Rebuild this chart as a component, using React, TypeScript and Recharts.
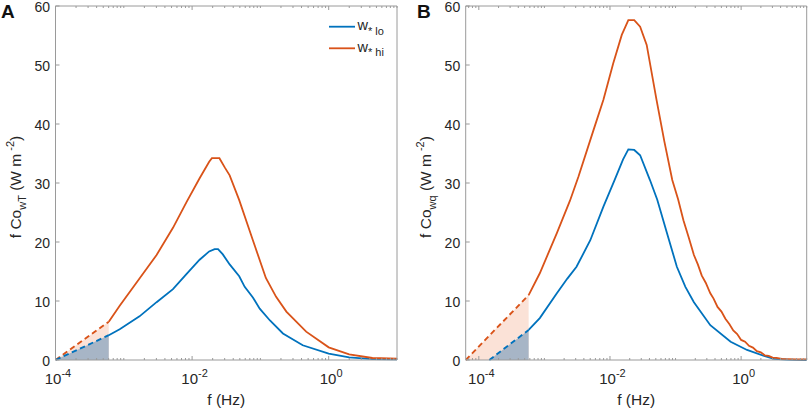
import { ComposedChart, Line, Area, XAxis, YAxis, Label } from 'recharts';

const BLUE = '#0072BD';
const ORANGE = '#D95319';
const PEACH = '#FBE2D7';
const SLATE = '#A7B5C6';
const AXIS = '#9a9a9a';
const INK = '#262626';
const FONT = '"Liberation Sans", Arial, Helvetica, sans-serif';

// x values are log10(f / Hz)
// panel A (w'T')
const A_HI_DASH_LOGF = [-4, -3.22];
const A_HI_DASH = [0, 6.5];
const A_LO_DASH_LOGF = [-4, -3.22];
const A_LO_DASH = [0, 4.2];
const A_HI_LOGF = [-3.22, -3.06, -2.77, -2.52, -2.28, -2.08, -1.89, -1.75, -1.71, -1.6, -1.52, -1.45, -1.31, -1.11, -0.92, -0.77, -0.62, -0.33, 0, 0.3, 0.64, 1];
const A_HI = [6.5, 9.2, 13.8, 17.8, 22.4, 26.8, 30.8, 33.6, 34.2, 34.2, 32.6, 31.3, 27.1, 20.3, 13.9, 10.7, 8.2, 4.8, 2.15, 0.96, 0.34, 0.22];
const A_LO_LOGF = [-3.22, -3.06, -2.77, -2.52, -2.28, -2.08, -1.89, -1.75, -1.67, -1.62, -1.55, -1.45, -1.31, -1.23, -1.11, -1.01, -0.86, -0.67, -0.38, 0, 0.3, 0.64, 1];
const A_LO = [4.2, 5.2, 7.4, 9.8, 12.0, 14.6, 17.0, 18.4, 18.8, 18.8, 17.9, 16.2, 14.2, 12.4, 10.6, 8.7, 6.7, 4.5, 2.5, 1.1, 0.45, 0.15, 0.1];

// panel B (w'q')
const B_HI_DASH_LOGF = [-4.2, -3.24];
const B_HI_DASH = [0, 11.0];
const B_LO_DASH_LOGF = [-3.84, -3.24];
const B_LO_DASH = [0, 5.1];
const B_HI_LOGF = [-3.24, -3.07, -2.81, -2.61, -2.48, -2.25, -2.1, -1.95, -1.82, -1.72, -1.63, -1.54, -1.44, -1.29, -1.17, -1.05, -0.96, -0.88, -0.8, -0.72, -0.66, -0.6, -0.54, -0.47, -0.42, -0.36, -0.3, -0.24, -0.18, -0.12, -0.06, 0, 0.06, 0.12, 0.18, 0.24, 0.3, 0.36, 0.42, 0.48, 0.54, 0.62, 0.72, 0.85, 1];
const B_HI = [11.0, 14.7, 21.5, 27.0, 31.1, 39.0, 44.1, 50.3, 55.1, 57.6, 57.6, 56.5, 53.4, 44.1, 37.0, 30.5, 27.2, 23.7, 20.8, 17.8, 16.2, 14.3, 13.1, 11.3, 10.4, 9.0, 8.2, 7.0, 6.1, 5.0, 4.4, 3.4, 3.1, 2.4, 2.1, 1.5, 1.3, 0.8, 0.7, 0.4, 0.35, 0.2, 0.15, 0.1, 0.1];
const B_LO_LOGF = [-3.24, -3.07, -2.81, -2.65, -2.51, -2.3, -2.1, -1.93, -1.8, -1.72, -1.63, -1.54, -1.39, -1.28, -1.13, -0.98, -0.85, -0.72, -0.47, -0.16, 0.09, 0.35, 0.5, 0.7, 1];
const B_LO = [5.1, 7.1, 11.3, 13.8, 15.8, 20.3, 26.0, 30.5, 34.0, 35.7, 35.6, 34.7, 30.5, 27.2, 21.5, 15.8, 12.4, 9.8, 5.9, 3.1, 1.7, 0.7, 0.2, 0.05, 0];

const Y_TICKS = [0, 10, 20, 30, 40, 50, 60];
const MAJOR_EXP = [-4, -2, 0];

const zip = (xs: number[], ys: number[]) => xs.map((x, i) => ({ x, v: ys[i] }));

const logTicks = (lo: number, hi: number) => {
  const out: number[] = [];
  for (let n = -5; n <= 1; n++) {
    for (let k = 1; k <= 9; k++) {
      const v = n + Math.log10(k);
      if (v >= lo - 1e-9 && v <= hi + 1e-9) out.push(k === 1 ? n : v);
    }
  }
  return out;
};

const isMajor = (v: number) => MAJOR_EXP.includes(v);

const BottomTick = (props: any) => {
  const { x, y, payload } = props;
  const major = isMajor(payload.value);
  return (
    <g>
      <line x1={x} x2={x} y1={y} y2={y - (major ? 4 : 2)} stroke={AXIS} />
      {major && (
        <text x={x + 2.5} y={y + 24} textAnchor="middle" fontSize={15} fill={INK} fontFamily={FONT}>
          10<tspan dy={-7} fontSize={11}>{String(payload.value)}</tspan>
        </text>
      )}
    </g>
  );
};

const TopTick = (props: any) => {
  const { x, y, payload } = props;
  return <line x1={x} x2={x} y1={y} y2={y + (isMajor(payload.value) ? 4 : 2)} stroke={AXIS} />;
};

const LeftTick = (props: any) => {
  const { x, y, payload } = props;
  return (
    <g>
      <line x1={x} x2={x + 4} y1={y} y2={y} stroke={AXIS} />
      <text x={x - 5.5} y={y + 5.5} textAnchor="end" fontSize={14} fill={INK} fontFamily={FONT}>
        {payload.value}
      </text>
    </g>
  );
};

const RightTick = (props: any) => {
  const { x, y } = props;
  return <line x1={x} x2={x - 4} y1={y} y2={y} stroke={AXIS} />;
};

const PLOT_TOP = 6;
const PLOT_BOTTOM = 360;

function Panel({ left, plotLeft, plotRight, domain, hiDash, loDash, hi, lo, sub }: any) {
  const width = 405;
  const ticks = logTicks(domain[0], domain[1]);
  const midX = (plotLeft + plotRight) / 2;
  const midY = (PLOT_TOP + PLOT_BOTTOM) / 2 + 4;
  const titleX = plotLeft - 34.5;
  return (
    <div style={{ position: 'absolute', left, top: 0 }}>
      <ComposedChart
        width={width}
        height={410}
        margin={{ top: PLOT_TOP - 1, bottom: 410 - PLOT_BOTTOM - 1, left: plotLeft - 1, right: width - plotRight - 1 }}
      >
        <XAxis
          dataKey="x"
          type="number"
          domain={domain}
          allowDataOverflow
          ticks={ticks}
          interval={0}
          height={1}
          tickSize={0}
          tickMargin={0}
          tickLine={false}
          axisLine={{ stroke: AXIS }}
          tick={<BottomTick />}
        >
          <Label
            content={() => (
              <text x={midX} y={405} textAnchor="middle" fontSize={15.5} fill={INK} fontFamily={FONT}>
                f (Hz)
              </text>
            )}
          />
        </XAxis>
        <XAxis
          xAxisId="top"
          orientation="top"
          dataKey="x"
          type="number"
          domain={domain}
          allowDataOverflow
          ticks={ticks}
          interval={0}
          height={1}
          tickSize={0}
          tickMargin={0}
          tickLine={false}
          axisLine={{ stroke: AXIS }}
          tick={<TopTick />}
        />
        <YAxis
          type="number"
          domain={[0, 60]}
          ticks={Y_TICKS}
          interval={0}
          width={1}
          tickSize={0}
          tickMargin={0}
          tickLine={false}
          axisLine={{ stroke: AXIS }}
          tick={<LeftTick />}
        >
          <Label
            content={() => (
              <text
                x={titleX}
                y={midY}
                transform={`rotate(-90, ${titleX}, ${midY})`}
                textAnchor="middle"
                fontSize={15.5}
                fill={INK}
                fontFamily={FONT}
              >
                f Co<tspan dy={5} fontSize={11}>{sub}</tspan>
                <tspan dy={-5}>{'\u00a0(W m'}</tspan>
                <tspan dy={-7} dx={3} fontSize={11}>-2</tspan>
                <tspan dy={7}>)</tspan>
              </text>
            )}
          />
        </YAxis>
        <YAxis
          yAxisId="right"
          orientation="right"
          type="number"
          domain={[0, 60]}
          ticks={Y_TICKS}
          interval={0}
          width={1}
          tickSize={0}
          tickMargin={0}
          tickLine={false}
          axisLine={{ stroke: AXIS }}
          tick={<RightTick />}
        />

        <Area data={hiDash} dataKey="v" type="linear" stroke="none" fill={PEACH} fillOpacity={1} isAnimationActive={false} />
        <Area data={loDash} dataKey="v" type="linear" stroke="none" fill={SLATE} fillOpacity={1} isAnimationActive={false} />
        <Line data={hiDash} dataKey="v" type="linear" stroke={ORANGE} strokeWidth={1.9} strokeDasharray="5.5 3.5" dot={false} isAnimationActive={false} />
        <Line data={loDash} dataKey="v" type="linear" stroke={BLUE} strokeWidth={1.9} strokeDasharray="5.5 3.5" dot={false} isAnimationActive={false} />
        <Line data={lo} dataKey="v" type="linear" stroke={BLUE} strokeWidth={1.8} dot={false} isAnimationActive={false} />
        <Line data={hi} dataKey="v" type="linear" stroke={ORANGE} strokeWidth={1.8} dot={false} isAnimationActive={false} />
      </ComposedChart>
    </div>
  );
}

const LEGEND = [
  { name: 'lo', color: BLUE, y: 26.7 },
  { name: 'hi', color: ORANGE, y: 48.3 },
];

export default function App() {
  return (
    <div style={{ position: 'absolute', left: 0, top: 0, width: 809, height: 410, background: '#fff' }}>
      <Panel
        left={0}
        plotLeft={55.5}
        plotRight={397}
        domain={[-4, 1]}
        hiDash={zip(A_HI_DASH_LOGF, A_HI_DASH)}
        loDash={zip(A_LO_DASH_LOGF, A_LO_DASH)}
        hi={zip(A_HI_LOGF, A_HI)}
        lo={zip(A_LO_LOGF, A_LO)}
        sub="wT"
      />
      <Panel
        left={404}
        plotLeft={61.7}
        plotRight={402.7}
        domain={[-4.2, 1]}
        hiDash={zip(B_HI_DASH_LOGF, B_HI_DASH)}
        loDash={zip(B_LO_DASH_LOGF, B_LO_DASH)}
        hi={zip(B_HI_LOGF, B_HI)}
        lo={zip(B_LO_LOGF, B_LO)}
        sub="wq"
      />
      <svg width={809} height={410} style={{ position: 'absolute', left: 0, top: 0, pointerEvents: 'none' }}>
        <text x={1} y={18} fontSize={19} fontWeight="bold" fill="#111" fontFamily={FONT}>A</text>
        <text x={417} y={18} fontSize={19} fontWeight="bold" fill="#111" fontFamily={FONT}>B</text>
        {LEGEND.map((d) => (
          <g key={d.name}>
            <line x1={329} x2={355} y1={d.y} y2={d.y} stroke={d.color} strokeWidth={1.8} />
            <text x={357.5} y={d.y + 3.6} fontSize={14.5} fill={INK} fontFamily={FONT}>
              w<tspan dy={4.5} fontSize={11}>* {d.name}</tspan>
            </text>
          </g>
        ))}
      </svg>
    </div>
  );
}
